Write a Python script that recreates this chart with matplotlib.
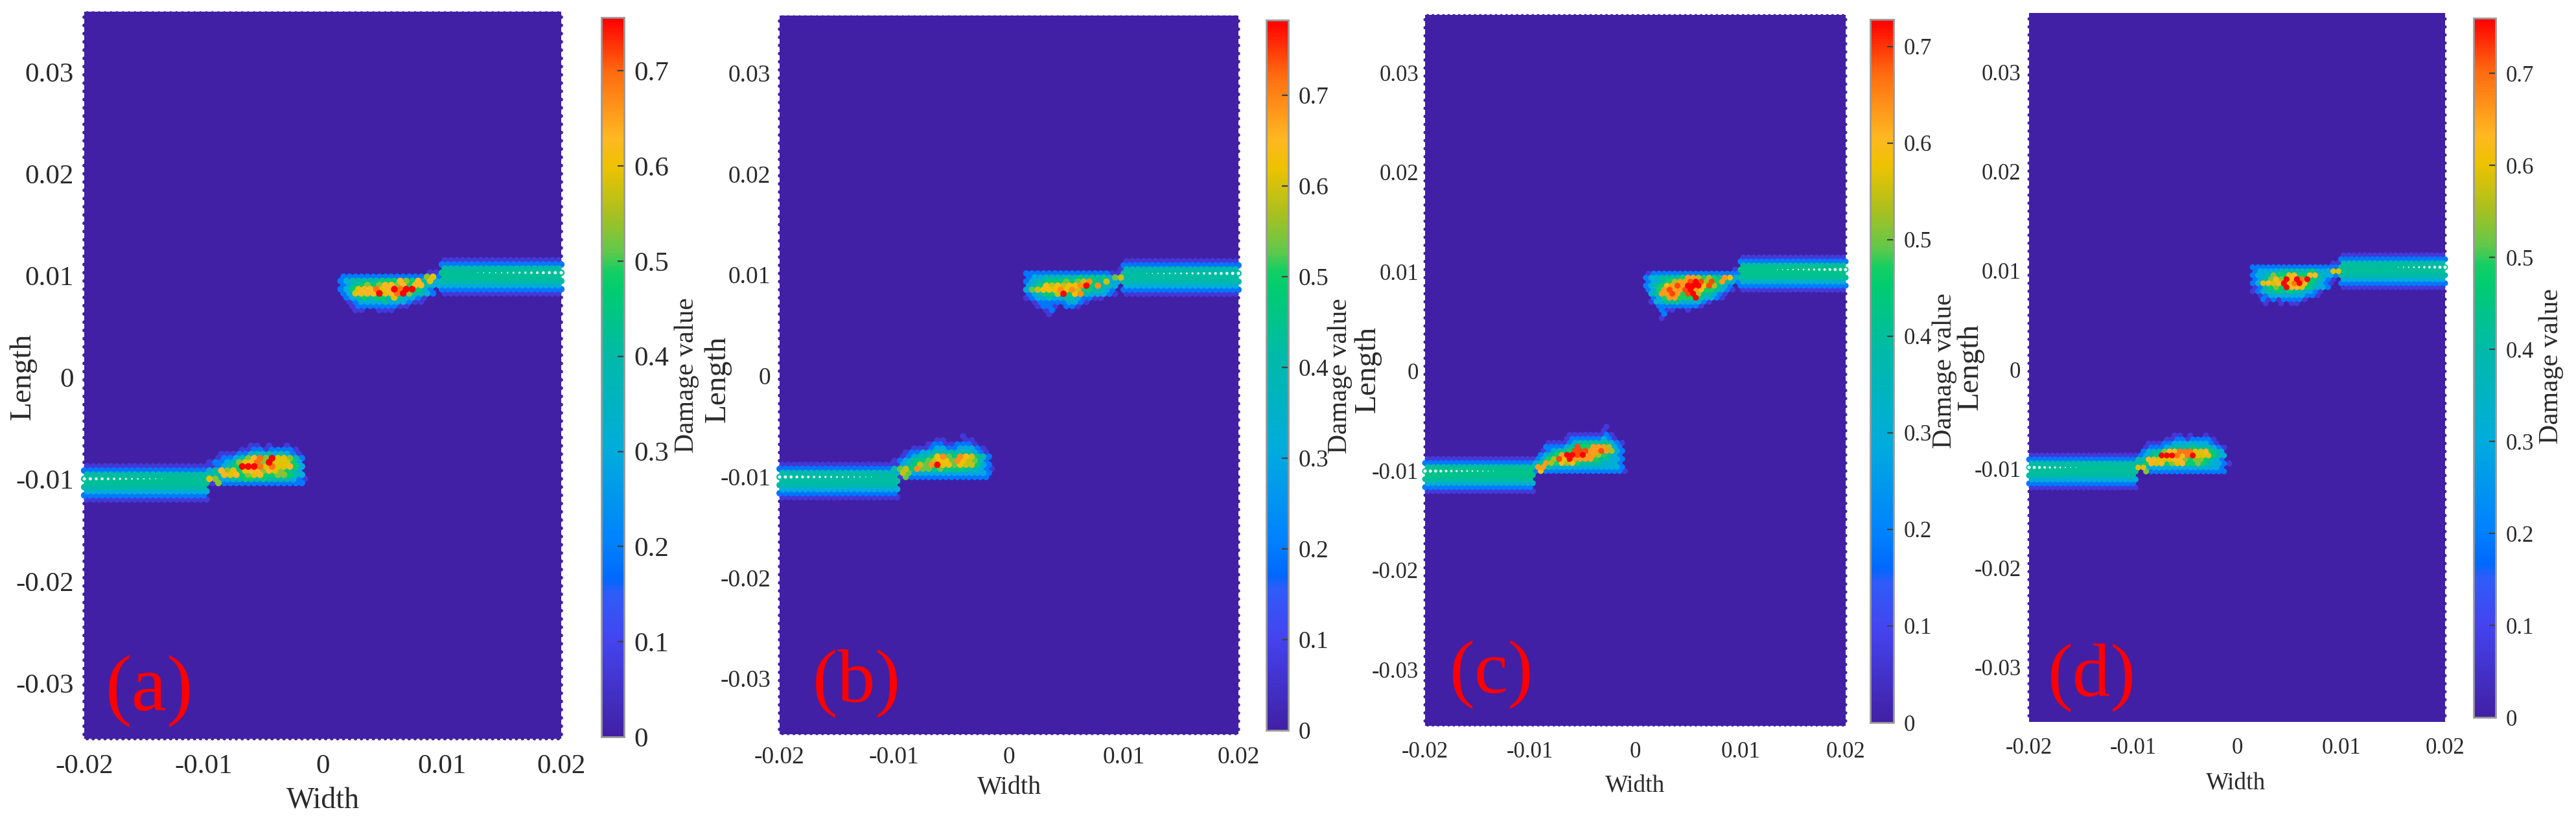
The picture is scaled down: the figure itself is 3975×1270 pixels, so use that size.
import numpy as np
import matplotlib
matplotlib.use("Agg")
import matplotlib.pyplot as plt
from matplotlib.colors import LinearSegmentedColormap, Normalize
from matplotlib.cm import ScalarMappable

plt.rcParams['font.family'] = ['Liberation Serif', 'DejaVu Serif']

# ---- data ----
panel_letters = ['(a)', '(b)', '(c)', '(d)']
vmax_values = [0.756, 0.783, 0.728, 0.76]
xticks = [-0.02, -0.01, 0, 0.01, 0.02]
xticklabels = ['-0.02', '-0.01', '0', '0.01', '0.02']
yticks = [-0.03, -0.02, -0.01, 0, 0.01, 0.02, 0.03]
yticklabels = ['-0.03', '-0.02', '-0.01', '0', '0.01', '0.02', '0.03']
cbar_ticks = [0, 0.1, 0.2, 0.3, 0.4, 0.5, 0.6, 0.7]
cbar_ticklabels = ['0', '0.1', '0.2', '0.3', '0.4', '0.5', '0.6', '0.7']

# damage level of each character in the crack-tip rows
level_values = {'1': .07, '2': .19, '3': .30, '4': .40, '5': .47, '6': .53,
                '7': .59, '8': .63, '9': .69, 'R': .80}

# crack tails: band across the crack line (offset from the line, damage)
tail_offsets = [0.0012, 0.0008, 0.0004, 0.0, -0.0004, -0.0008, -0.0012, -0.0016, -0.0020]
tail_values = [0.07, 0.19, 0.40, 0.42, 0.42, 0.40, 0.31, 0.19, 0.07]
crack_lines = [-0.01, 0.01]
lower_tail_end = [-0.0100, -0.0100, -0.00996, -0.0100]
upper_tail_start = [0.0099, 0.00994, 0.00986, 0.00996]
white_lower_end = [-0.0135, -0.0120, -0.0131, -0.0152]
white_upper_start = [0.0130, 0.0120, 0.0134, 0.0153]
# the crack picture sits slightly off the tick scale in the reference
field_stretch = [1.0116, 1.0085, 1.013, 1.0098]
field_shift = [0.00016, 0.00006, 0.0001, 0.00026]
y_top = [0.0359, 0.0357, 0.03583, 0.0360]
y_bottom = [-0.03547, -0.03552, -0.03564, -0.0355]

# crack-tip zones: left x, top y, rows from top to bottom
a_lower_x0, a_lower_y0 = -0.0096, -0.0066
a_lower = ["       11 1  1", "     1122122221", "  11122343434321", " 122346896R77642",
           "1223467896R77753", "12345RRR97977853", "3486757886876543", "4487856785566543",
           "76334455454444321", "1622222222222222"]
a_upper_x0, a_upper_y0 = 0.00136, 0.01015
a_upper = ["               11", "22222222222222672", "23444445558658473", "23456568868588433",
           "235788978R9RR532", "237888R789R64432", " 23454554743321", " 1233334333211",
           "  1222222211", "  11  111"]
b_lower_x0, b_lower_y0 = -0.00988, -0.0061
b_lower = ["            1", "       11   11", "      122112221", "   1112332233321",
           "  122334444444321", " 1234458965987542", "12345567886987642",
           "1345769R886877532", "467596656555544321", "37633333333333332", " 1622222222222222"]
b_upper_x0, b_upper_y0 = 0.0016, 0.0103
b_upper = ["                1", "22222222222222211", "23344444454545367", "23445556567954733",
           "3458787889R59443", "3678889897554432", "234557R589433321", "12334334432211",
           " 1222223321", "  1221 221", "   12", "    1"]
c_lower_x0, c_lower_y0 = -0.0095, -0.00571
c_lower = ["             1", "             1", "      111111121", "      1222222321",
           "  111123444444321", "  222234955888632", " 1234459998898632", " 23458RR9R8865432",
           "235697R8888544332", "34865767544443332", "88433333333333332", "272222222222222221"]
c_upper_x0, c_upper_y0 = 0.00098, 0.0102
c_upper = ["                 1", "122222222222222222", "233444458865654873", "233456889R96958432",
           "23457898RRR796432", "23589889R87554321", " 34889859R644321", " 23588555R43321",
           " 133444333321", "  222222221", "   211  1", "   2", "   1"]
d_lower_x0, d_lower_y0 = -0.00954, -0.00673
d_lower = ["       11 1  1", "     1122122221", "  11122333333321", " 1222344445444321",
           " 2344688999778543", "2345RRR989R777543", "44887778865665432", "458785678556543321",
           "77333333333333332", " 6222222222222222"]
d_upper_x0, d_upper_y0 = 0.00147, 0.01025
d_upper = ["               11", "22222222222222222", "23333444444533377", "23346557855884332",
           "234686R8R9R54321", "237878R79R854321", "124565R88754332", "12344545443321",
           " 123333333221", "  212122221", "  1  1 11"]

zones = [[(a_lower_x0, a_lower_y0, a_lower), (a_upper_x0, a_upper_y0, a_upper)],
         [(b_lower_x0, b_lower_y0, b_lower), (b_upper_x0, b_upper_y0, b_upper)],
         [(c_lower_x0, c_lower_y0, c_lower), (c_upper_x0, c_upper_y0, c_upper)],
         [(d_lower_x0, d_lower_y0, d_lower), (d_upper_x0, d_upper_y0, d_upper)]]

# ---- layout in reference pixels ----
W, H = 3975, 1270
axes_box = [(130, 18, 866, 1140), (1203, 24, 1911, 1133), (2199, 23, 2848, 1120), (3131, 20, 3773, 1114)]
cbar_box = [(928, 27, 963, 1137), (1954, 31, 1988, 1127), (2886, 30, 2922, 1115), (3817, 28, 3851, 1107)]
xpad = [17, 13, 17, 17]
ypad = [11.5, 10, 7, 9]
width_pos = [(498, 1235), (1557, 1215), (2523, 1212), (3450, 1208)]
length_pos = [(35, 581), (1107, 585), (2110, 570), (3040, 566)]
damage_pos = [(1060, 579), (2068, 580), (3001, 572), (3937, 565)]
letter_pos = [(230, 1066), (1322, 1054), (2302, 1040), (3228, 1045)]
tick_fs = [31, 27, 25, 25]
letter_fs = [88, 84, 84, 84]
text_col = '#2a2a2a'
background = '#4120a5'

cmap = LinearSegmentedColormap.from_list('damage', [
    (0.0, background), (0.1 / .756, '#4444f0'), (0.15 / .756, '#2f5cf8'),
    (0.165 / .756, '#0068ff'), (0.2 / .756, '#0080ff'), (0.3 / .756, '#00acdc'),
    (0.4 / .756, '#00baa8'), (0.47 / .756, '#00cc70'), (0.49 / .756, '#14cf62'),
    (0.51 / .756, '#60c84c'), (0.55 / .756, '#a8c020'), (0.6 / .756, '#eec200'),
    (0.63 / .756, '#ffb822'), (0.7 / .756, '#ff6a10'), (1.0, '#ff0000')])

dx, dy = 0.0005, 0.0004
ncol, nrow = 81, 183
ymin = -0.0364


def build_field(i):
    z = np.zeros((nrow, ncol))
    xs = -0.02 + dx * np.arange(ncol)
    ys = ymin + dy * np.arange(nrow)
    for line in crack_lines:
        for off, val in zip(tail_offsets, tail_values):
            j = int(round((line + off - ymin) / dy))
            mask = xs <= lower_tail_end[i] if line < 0 else xs >= upper_tail_start[i]
            z[j, mask] = val
    for x0, y0, rows in zones[i]:
        c0 = int(round((x0 + 0.02) / dx))
        r0 = int(round((y0 - ymin) / dy))
        for r, row in enumerate(rows):
            for c, ch in enumerate(row):
                if ch != ' ':
                    z[r0 - r, c0 + c] = level_values[ch]
    return xs, ys, z


fig = plt.figure(figsize=(W / 100, H / 100), dpi=100, facecolor='white')

for i in range(4):
    x0, y0, x1, y1 = axes_box[i]
    ax = fig.add_axes([x0 / W, 1 - y1 / H, (x1 - x0) / W, (y1 - y0) / H])
    ax.set_facecolor(background)
    xs, ys, z = build_field(i)
    X, Y = np.meshgrid(xs, ys * field_stretch[i] + field_shift[i])
    X = X + (np.arange(nrow)[:, None] % 2) * dx / 2
    keep = (X <= 0.0201) & (Y <= y_top[i]) & (Y >= y_bottom[i])
    px = (x1 - x0) / 80
    size = (1.12 * px * 0.72) ** 2
    xv, yv, zv = X[keep], Y[keep], z[keep]
    order = np.argsort(zv, kind='stable')
    norm = Normalize(0, vmax_values[i])
    sizes = np.where(zv[order] > 0, size, size * 0.3)
    ax.scatter(xv[order], yv[order], c=zv[order], cmap=cmap, norm=norm, s=sizes,
               linewidths=0, clip_on=False, zorder=2)
    # white dots on the crack line, fading away from the edge
    wl = xs[xs <= white_lower_end[i]]
    wu = xs[xs >= white_upper_start[i]]
    for arr, line, frac in ((wl, -0.01, (wl - wl.min()) / np.ptp(wl)),
                            (wu, 0.01, (wu.max() - wu) / np.ptp(wu))):
        ly = line * field_stretch[i] + field_shift[i]
        ax.scatter(arr, np.full_like(arr, ly), c='white', s=(5.2 * 0.72 * (1 - 0.75 * frac)) ** 2,
                   linewidths=0, alpha=0.95, clip_on=False, zorder=3)
    ax.set_xlim(-0.02, 0.02)
    ax.set_ylim(y_bottom[i], y_top[i])
    for s in ax.spines.values():
        s.set_visible(False)
    ax.set_xticks(xticks, xticklabels)
    ax.set_yticks(yticks, yticklabels)
    ax.tick_params(axis='x', length=0, pad=xpad[i], labelsize=tick_fs[i], labelcolor=text_col)
    ax.tick_params(axis='y', length=0, pad=ypad[i], labelsize=tick_fs[i], labelcolor=text_col)

    fig.text(width_pos[i][0] / W, 1 - width_pos[i][1] / H, 'Width', ha='center', va='center',
             fontsize=tick_fs[i] + 2, color=text_col)
    fig.text(length_pos[i][0] / W, 1 - length_pos[i][1] / H, 'Length', rotation=90, ha='center',
             va='center', fontsize=34, color=text_col)
    fig.text(damage_pos[i][0] / W, 1 - damage_pos[i][1] / H, 'Damage value', rotation=90, ha='center',
             va='center', fontsize=30, color=text_col)
    fig.text(letter_pos[i][0] / W, 1 - letter_pos[i][1] / H, panel_letters[i], ha='center', va='center',
             fontsize=letter_fs[i], color='#ff0000', zorder=5)

    bx0, by0, bx1, by1 = cbar_box[i]
    cax = fig.add_axes([bx0 / W, 1 - by1 / H, (bx1 - bx0) / W, (by1 - by0) / H])
    cb = fig.colorbar(ScalarMappable(norm=norm, cmap=cmap), cax=cax)
    cb.set_ticks(cbar_ticks, labels=cbar_ticklabels)
    cb.outline.set_edgecolor('#999999')
    cb.outline.set_linewidth(2)
    cax.tick_params(direction='in', length=7, width=1.6, color='#404040', pad=11,
                    labelsize=tick_fs[i], labelcolor=text_col)

fig.savefig('out.png', dpi=100, facecolor='white')
